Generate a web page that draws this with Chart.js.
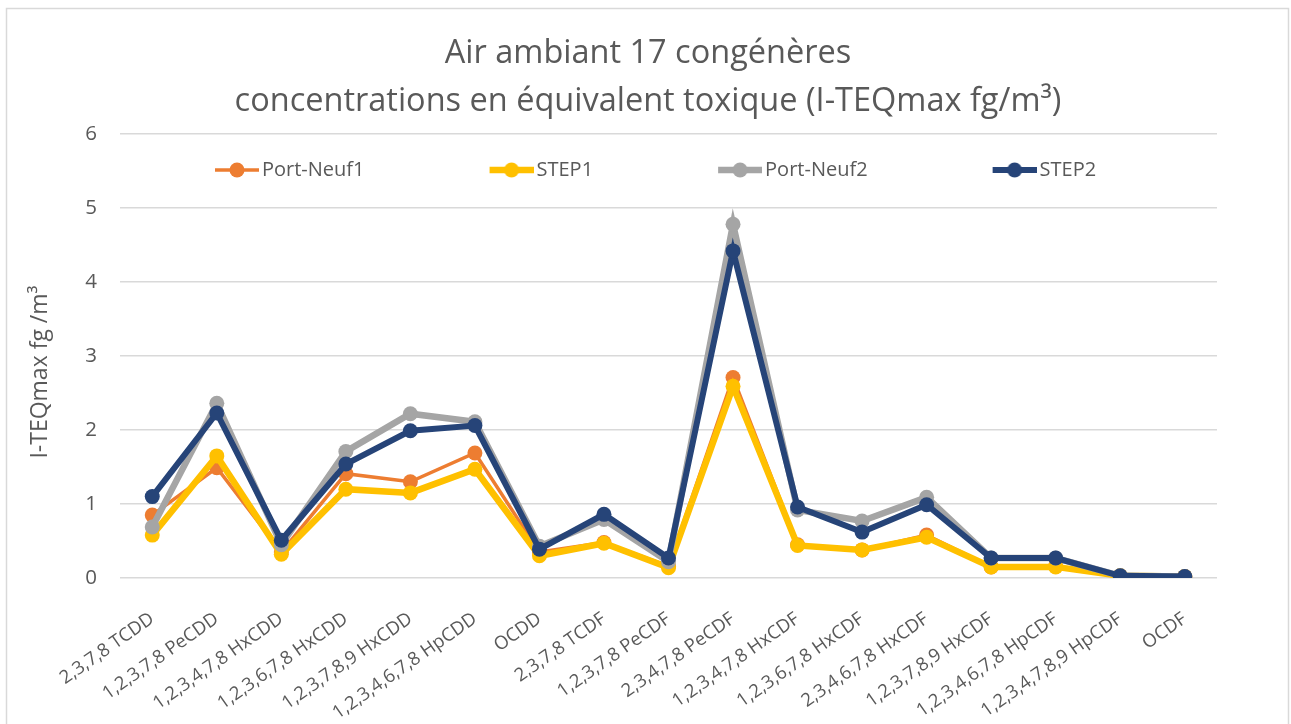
<!DOCTYPE html>
<html>
<head>
<meta charset="utf-8">
<script src="https://cdn.jsdelivr.net/npm/chart.js@4.4.1/dist/chart.umd.min.js"></script>
<style>
html,body{margin:0;padding:0;background:#fff;}
#wrap{width:1291px;height:724px;position:relative;}
canvas{display:block;}
</style>
</head>
<body>
<div id="wrap"><canvas id="c" width="1291" height="724"></canvas></div>
<script>
const categories = ['2,3,7,8 TCDD','1,2,3,7,8 PeCDD','1,2,3,4,7,8 HxCDD','1,2,3,6,7,8 HxCDD','1,2,3,7,8,9 HxCDD','1,2,3,4,6,7,8 HpCDD','OCDD','2,3,7,8 TCDF','1,2,3,7,8 PeCDF','2,3,4,7,8 PeCDF','1,2,3,4,7,8 HxCDF','1,2,3,6,7,8 HxCDF','2,3,4,6,7,8 HxCDF','1,2,3,7,8,9 HxCDF','1,2,3,4,6,7,8 HpCDF','1,2,3,4,7,8,9 HpCDF','OCDF'];
const seriesNames = ['Port-Neuf1','STEP1','Port-Neuf2','STEP2'];
const portNeuf1 = [0.85,1.49,0.35,1.41,1.30,1.69,0.35,0.48,0.16,2.71,0.45,0.38,0.58,0.15,0.16,0.03,0.02];
const step1     = [0.58,1.65,0.32,1.20,1.15,1.47,0.30,0.47,0.14,2.59,0.44,0.38,0.55,0.15,0.15,0.03,0.02];
const portNeuf2 = [0.69,2.36,0.45,1.71,2.22,2.11,0.43,0.79,0.22,4.78,0.92,0.77,1.09,0.27,0.27,0.03,0.02];
const step2     = [1.10,2.23,0.51,1.54,1.99,2.06,0.39,0.86,0.27,4.42,0.96,0.62,0.99,0.27,0.27,0.03,0.02];
const yTicks = [0,1,2,3,4,5,6];
const titleLines = ['Air ambiant 17 congénères','concentrations en équivalent toxique (I-TEQmax fg/m³)'];
const yTitle = 'I-TEQmax fg /m³';

const FONT = "'Open Sans', sans-serif";
const TXT = '#595959';
const colors = ['#ED7D31','#FFC000','#A5A5A5','#264478'];
const lineW = [3.5,6.5,6.5,6];
const values = [portNeuf1, step1, portNeuf2, step2];

// layout constants (pixels)
const PAD = {left:8, right:74, top:8, bottom:0};
const PLOT = {left:120, top:134, bottom:578};
const TITLE_CENTER_X = 648;
const TITLE_PAD_TOP = 22;
const Y_TITLE_CENTER = 372;
const LEG_FONT = 20, LEG_PAD = 10, LEG_BOX = 152, LEG_OVER = 7, LEG_SAMPLE = 44;
const LEG_CENTER_Y = 170, LEG_FIRST_X = 215;

function legendSample(color, lw){
  const c = document.createElement('canvas');
  c.width = LEG_BOX + 2*LEG_OVER; c.height = 18;
  const x = c.getContext('2d');
  const x1 = c.width - LEG_SAMPLE, x2 = c.width;
  x.strokeStyle = color; x.lineWidth = lw; x.lineCap='butt';
  x.beginPath(); x.moveTo(x1,9); x.lineTo(x2,9); x.stroke();
  x.fillStyle = color; x.beginPath(); x.arc((x1+x2)/2,9,7.5,0,Math.PI*2); x.fill();
  return c;
}

const frame = {
  id:'frame',
  beforeDraw(chart){
    const ctx = chart.ctx;
    ctx.save();
    ctx.fillStyle='#fff'; ctx.fillRect(0,0,chart.width,chart.height);
    ctx.strokeStyle='#d9d9d9'; ctx.lineWidth=1.5;
    ctx.strokeRect(6.5,8.5,1282,740);
    ctx.restore();
  }
};

// legend sits inside the plot area, as in the original; title centred on the whole canvas
const placeBoxes = {
  id:'placeBoxes',
  beforeInit(chart){
    const lg = chart.legend;
    const fit = lg.fit;
    lg.fit = function(){ fit.call(this); this._natH = this.height; this.height = 0; };
  },
  afterLayout(chart){
    const lg = chart.legend;
    const top = LEG_CENTER_Y - LEG_PAD - LEG_FONT/2;
    lg.top = top; lg.bottom = top + (lg._natH || 40);
    const x0 = (lg.left + LEG_PAD + lg.right - lg.lineWidths[0]) / 2;
    const firstVisible = x0 + LEG_BOX + LEG_OVER - LEG_SAMPLE;
    const shift = LEG_FIRST_X - firstVisible;
    lg.left += shift; lg.right += shift;
    const tb = chart.titleBlock;
    const d = TITLE_CENTER_X - (tb.left + tb.right)/2;
    tb.left += d; tb.right += d;
    const ys = chart.scales.y;
    if (!ys._titleWrapped){
      const dt = ys.drawTitle;
      ys.drawTitle = function(){
        const off = Y_TITLE_CENTER - (this.top + this.bottom)/2;
        this.top += off; this.bottom += off;
        dt.call(this);
        this.top -= off; this.bottom -= off;
      };
      ys._titleWrapped = true;
    }
  }
};

const datasets = seriesNames.map((n,i)=>({
  label:n,
  data: values[i],
  borderColor: colors[i],
  backgroundColor: colors[i],
  borderWidth: lineW[i],
  pointRadius: 7.5,
  pointHoverRadius: 7.5,
  pointBorderWidth: 0,
  pointBackgroundColor: colors[i],
  tension: 0,
  order: 4-i
}));

new Chart(document.getElementById('c'), {
  type:'line',
  data:{labels:categories, datasets},
  plugins:[frame, placeBoxes],
  options:{
    responsive:false,
    animation:false,
    layout:{padding:PAD},
    plugins:{
      title:{display:true,text:titleLines,color:TXT,font:{family:FONT,size:32.5,weight:'normal',lineHeight:48/32.5},padding:{top:TITLE_PAD_TOP,bottom:PLOT.top - PAD.top - TITLE_PAD_TOP - 96}},
      legend:{
        display:true,
        labels:{
          color:TXT,
          font:{family:FONT,size:LEG_FONT},
          usePointStyle:true,
          pointStyleWidth:LEG_BOX,
          padding:LEG_PAD,
          sort:(a,b)=>a.datasetIndex-b.datasetIndex,
          generateLabels(chart){
            return chart.data.datasets.map((d,i)=>({
              text:d.label, fillStyle:d.borderColor, strokeStyle:d.borderColor, fontColor:TXT,
              lineWidth:0, hidden:false, datasetIndex:i,
              pointStyle: legendSample(d.borderColor, d.borderWidth)
            }));
          }
        }
      },
      tooltip:{enabled:false}
    },
    scales:{
      x:{
        offset:true,
        grid:{display:false},
        border:{display:false},
        ticks:{color:TXT,font:{family:FONT,size:18.5},minRotation:35,maxRotation:35,autoSkip:false,padding:22},
        afterFit(scale){ scale.height = 724 - PLOT.bottom - PAD.bottom; }
      },
      y:{
        min:0,max:6,
        afterBuildTicks(scale){ scale.ticks = yTicks.map(v=>({value:v})); },
        afterFit(scale){ scale.width = PLOT.left - PAD.left; },
        grid:{color:'#d9d9d9',lineWidth:1.5,drawTicks:false},
        border:{display:false},
        ticks:{color:TXT,font:{family:FONT,size:20.5},padding:23},
        title:{display:true,text:yTitle,color:TXT,font:{family:FONT,size:23},padding:{top:19,bottom:0}}
      }
    }
  }
});
</script>
</body>
</html>
